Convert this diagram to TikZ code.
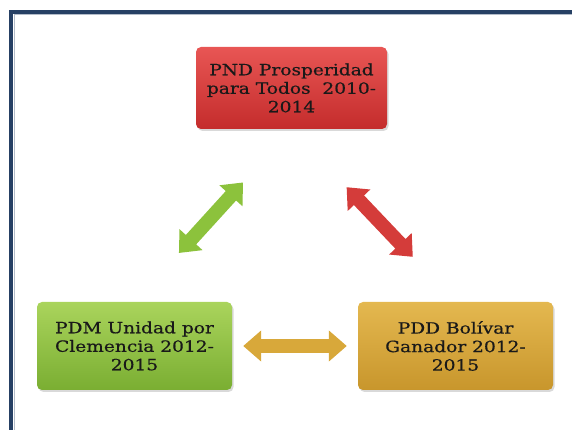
\documentclass[tikz,border=0pt]{standalone}
\usepackage{fontspec}
\newfontfamily\planfont[FakeStretch=1.2, FakeBold=0.5]{DejaVu Serif}
\usetikzlibrary{arrows.meta, shadows}

\definecolor{framecol}{RGB}{38,64,100}
\definecolor{redtop}{RGB}{232,86,84}
\definecolor{redbot}{RGB}{196,44,44}
\definecolor{greentop}{RGB}{170,212,92}
\definecolor{greenbot}{RGB}{122,174,50}
\definecolor{goldtop}{RGB}{228,184,80}
\definecolor{goldbot}{RGB}{200,150,44}
\definecolor{redarrow}{RGB}{212,60,58}
\definecolor{greenarrow}{RGB}{140,194,60}
\definecolor{goldarrow}{RGB}{216,168,58}

\begin{document}
\begin{tikzpicture}[x=1pt, y=1pt, >={Triangle[width=30pt, length=18pt]},
    every node/.style={rounded corners=5pt, minimum width=195pt, minimum height=88pt, align=center, text=black!90,
        font=\planfont\fontsize{15.5}{18.5}\selectfont, drop shadow={opacity=0.3, shadow xshift=1.5pt, shadow yshift=-2pt}},
    link/.style={<->, line width=14pt}]
    \useasboundingbox (0,0) rectangle (572,430);

    % Frame
    \draw[framecol!35, line width=1pt] (14.5,0) -- (14.5,415.5) -- (572,415.5);
    \draw[framecol, line width=4pt] (11,0) -- (11,418) -- (572,418);

    % Define plans
    \node[top color=redtop, bottom color=redbot, minimum width=191pt, minimum height=82pt] (pnd) at (291.5,342) {PND Prosperidad\\para Todos\ \ 2010-\\2014};
    \node[top color=greentop, bottom color=greenbot] (pdm) at (134.5,84) {PDM Unidad por\\Clemencia 2012-\\2015};
    \node[top color=goldtop, bottom color=goldbot] (pdd) at (455.5,84) {PDD Bolívar\\Ganador 2012-\\2015};

    % Draw links
    \draw[link, greenarrow, shorten <=66pt, shorten >=72pt] (pdm.north) -- (pnd.south); % PDM <-> PND
    \draw[link, redarrow, shorten <=80pt, shorten >=62pt] (pnd.south) -- (pdd.north); % PND <-> PDD
    \draw[link, goldarrow, shorten <=11pt, shorten >=11pt] (pdm.east) -- (pdd.west); % PDM <-> PDD
\end{tikzpicture}
\end{document}
